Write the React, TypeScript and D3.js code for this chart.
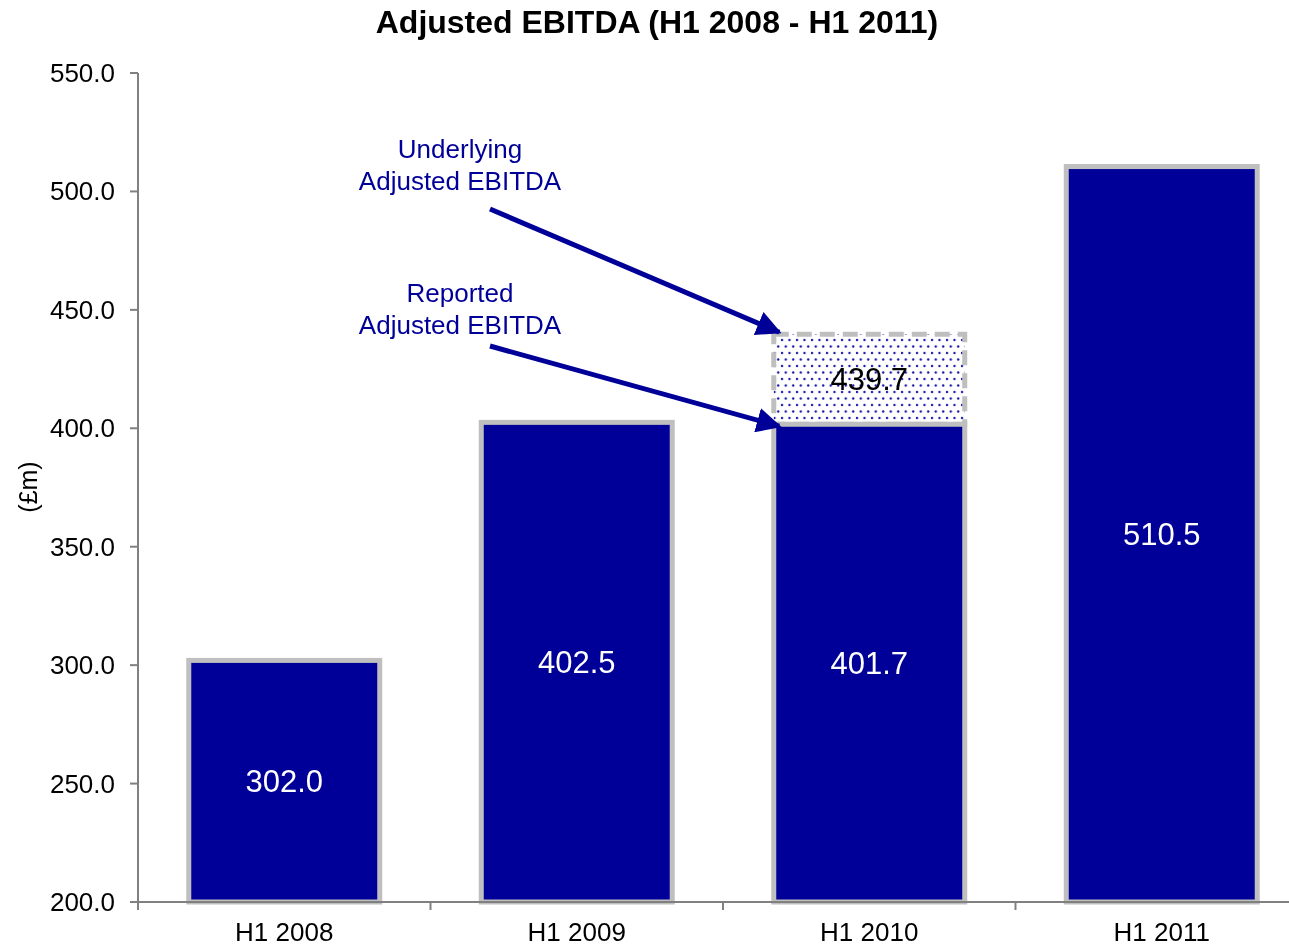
import React from "react";
import * as d3 from "d3";

const categories = ["H1 2008", "H1 2009", "H1 2010", "H1 2011"];
const reported = [302.0, 402.5, 401.7, 510.5];
const underlying = [null, null, 439.7, null];
const yTicks = [200, 250, 300, 350, 400, 450, 500, 550];

const W = 1289, H = 947;
const left = 138, right = 1308, top = 73, bottom = 902;
const navy = "#000099";
const grey = "#BFBFBF";
const font = "Liberation Sans, Arial, sans-serif";

export default function App() {
  const x = d3.scaleBand().domain(categories).range([left, right]).paddingInner(0.33).paddingOuter(0.165);
  const y = d3.scaleLinear().domain([200, 550]).range([bottom, top]);
  const xo = d3.scaleBand().domain(categories).range([left, right]);
  const bw = x.bandwidth();

  const ux = x(categories[2])!;
  const arrow1 = { x1: 490, y1: 209, x2: ux + 8, y2: y(439.7) - 2 };
  const arrow2 = { x1: 490, y1: 346, x2: ux + 8, y2: y(401.7) + 2 };

  return (
    <div style={{ position: "fixed", left: 0, top: 0, width: W, height: H, overflow: "hidden" }}>
      <svg width={W} height={H} style={{ display: "block" }} fontFamily={font}>
        <defs>
          <pattern id="dots" width="7.5" height="13" patternUnits="userSpaceOnUse">
            <rect width="7.5" height="13" fill="#fff" />
            <circle cx="2" cy="2" r="1.2" fill="#1a1aa8" />
            <circle cx="5.75" cy="8.5" r="1.2" fill="#1a1aa8" />
          </pattern>
          <marker id="ah" viewBox="0 0 10 10" refX="9" refY="5" markerWidth="5" markerHeight="5" orient="auto" markerUnits="strokeWidth">
            <path d="M0,0 L10,5 L0,10 z" fill={navy} />
          </marker>
        </defs>
        <text x={657} y={33} textAnchor="middle" fontSize={32} fontWeight="bold">Adjusted EBITDA (H1 2008 - H1 2011)</text>

        {/* y axis */}
        <line x1={left} x2={left} y1={top} y2={bottom} stroke="#808080" strokeWidth={2} />
        {yTicks.map((t) => (
          <g key={t}>
            <line x1={left - 8} x2={left} y1={y(t)} y2={y(t)} stroke="#808080" strokeWidth={2} />
            <text x={115} y={y(t) + 9} textAnchor="end" fontSize={26}>{t.toFixed(1)}</text>
          </g>
        ))}
        <text transform={`translate(37,${487}) rotate(-90)`} textAnchor="middle" fontSize={25}>(£m)</text>

        {/* bars */}
        {categories.map((c, i) => {
          const uv = underlying[i];
          return (
            <g key={c}>
              {uv != null && (
                <rect x={x(c)! + 2.5} y={y(uv)} width={bw - 5} height={y(reported[i]) - y(uv)}
                  fill="url(#dots)" stroke={grey} strokeWidth={5} strokeDasharray="15,8" />
              )}
              <rect x={x(c)! + 2.5} y={y(reported[i])} width={bw - 5} height={bottom - y(reported[i])}
                fill={navy} stroke={grey} strokeWidth={5} />
              <text x={x(c)! + bw / 2} y={(y(reported[i]) + bottom) / 2 + 11} textAnchor="middle" fontSize={31} fill="#fff">
                {reported[i].toFixed(1)}
              </text>
              {uv != null && (
                <text x={x(c)! + bw / 2} y={(y(uv) + y(reported[i])) / 2 + 11} textAnchor="middle" fontSize={31} fill="#000">
                  {uv.toFixed(1)}
                </text>
              )}
            </g>
          );
        })}

        {/* x axis */}
        <line x1={left} x2={right} y1={bottom} y2={bottom} stroke="#808080" strokeWidth={2} />
        {categories.map((c) => (
          <line key={"t" + c} x1={xo(c)!} x2={xo(c)!} y1={bottom} y2={bottom + 8} stroke="#808080" strokeWidth={2} />
        ))}
        {categories.map((c) => (
          <text key={"l" + c} x={x(c)! + bw / 2} y={941} textAnchor="middle" fontSize={26}>{c}</text>
        ))}

        {/* annotations */}
        <text x={460} y={158} textAnchor="middle" fontSize={26} fill={navy}>Underlying</text>
        <text x={460} y={190} textAnchor="middle" fontSize={26} fill={navy}>Adjusted EBITDA</text>
        <text x={460} y={302} textAnchor="middle" fontSize={26} fill={navy}>Reported</text>
        <text x={460} y={334} textAnchor="middle" fontSize={26} fill={navy}>Adjusted EBITDA</text>
        <line {...arrow1} stroke={navy} strokeWidth={5} markerEnd="url(#ah)" />
        <line {...arrow2} stroke={navy} strokeWidth={5} markerEnd="url(#ah)" />
      </svg>
    </div>
  );
}
